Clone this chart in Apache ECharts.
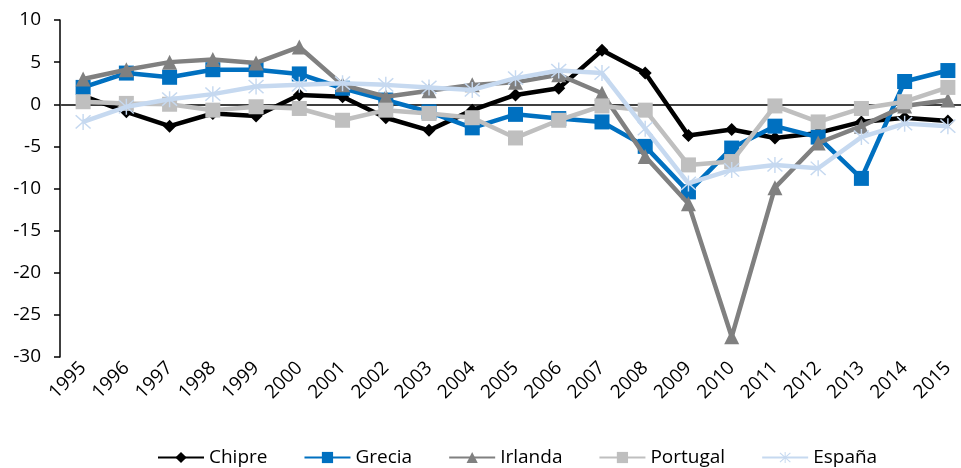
<!DOCTYPE html>
<html>
<head>
<meta charset="utf-8">
<script src="https://cdn.jsdelivr.net/npm/echarts@6/dist/echarts.min.js"></script>
<style>html,body{margin:0;padding:0;background:#fff}#c{width:961px;height:468px}</style>
</head>
<body>
<div id="c"></div>
<script>
const years = ['1995','1996','1997','1998','1999','2000','2001','2002','2003','2004','2005','2006','2007','2008','2009','2010','2011','2012','2013','2014','2015'];
const chipre   = [1.0, -0.9, -2.6, -1.1, -1.4, 1.1, 0.9, -1.6, -3.1, -0.7, 1.1, 1.9, 6.4, 3.7, -3.7, -3.0, -4.0, -3.4, -2.1, -1.6, -2.0];
const grecia   = [2.0, 3.7, 3.2, 4.1, 4.1, 3.6, 1.9, 0.5, -0.9, -2.8, -1.2, -1.7, -2.1, -5.0, -10.4, -5.2, -2.6, -3.9, -8.8, 2.7, 4.0];
const irlanda  = [3.0, 4.1, 5.0, 5.3, 4.9, 6.8, 2.3, 0.9, 1.6, 2.3, 2.6, 3.5, 1.3, -6.2, -11.8, -27.6, -9.9, -4.6, -2.6, -0.2, 0.5];
const portugal = [0.3, 0.1, 0.0, -0.7, -0.3, -0.5, -1.9, -0.7, -1.1, -1.6, -4.0, -1.9, -0.2, -0.7, -7.2, -6.8, -0.2, -2.1, -0.5, 0.3, 2.0];
const espana   = [-2.1, -0.3, 0.6, 1.2, 2.1, 2.3, 2.5, 2.3, 2.0, 1.7, 3.1, 4.0, 3.7, -2.9, -9.4, -7.8, -7.2, -7.6, -3.9, -2.3, -2.6];
const seriesNames = ['Chipre','Grecia','Irlanda','Portugal','España'];
const yTicks = {min: -30, max: 10, interval: 5};

const FONT = 'Open Sans';
const star = 'path://M9.2 0 L10.8 0 L10.8 20 L9.2 20 Z M1.1 2.3 L2.3 1.1 L18.9 17.7 L17.7 18.9 Z M17.7 1.1 L18.9 2.3 L2.3 18.9 L1.1 17.7 Z';

const styles = [
  {color: '#000000', symbol: 'diamond', size: 13},
  {color: '#0070C0', symbol: 'rect', size: 15},
  {color: '#808080', symbol: 'triangle', size: 15},
  {color: '#BFBFBF', symbol: 'rect', size: 15},
  {color: '#C6D9F0', symbol: star, size: 16}
];
const data = [chipre, grecia, irlanda, portugal, espana];

const chart = echarts.init(document.getElementById('c'), null, {renderer: 'canvas'});
chart.setOption({
  animation: false,
  backgroundColor: '#ffffff',
  textStyle: {fontFamily: FONT},
  grid: {left: 61.5, top: 20, width: 908, height: 337, containLabel: false, outerBoundsMode: 'none'},
  legend: {
    top: 443, left: 152,
    itemWidth: 46, itemHeight: 14, itemGap: 36,
    textStyle: {fontFamily: FONT, fontSize: 19, color: '#000'},
    data: seriesNames
  },
  xAxis: [
    {
      type: 'category', data: years, position: 'top', boundaryGap: true,
      axisLine: {onZero: true, lineStyle: {color: '#000', width: 1.5}},
      axisTick: {inside: true, length: 5, lineStyle: {color: '#000', width: 1.5}},
      axisLabel: {show: false}, splitLine: {show: false}
    },
    {
      type: 'category', data: years, position: 'bottom', boundaryGap: true,
      axisLine: {show: false, onZero: false},
      axisTick: {show: false},
      axisLabel: {rotate: 45, margin: 8, fontFamily: FONT, fontSize: 19, color: '#000', interval: 0},
      splitLine: {show: false}
    }
  ],
  yAxis: {
    type: 'value', min: yTicks.min, max: yTicks.max, interval: yTicks.interval,
    offset: 1.5,
    axisLine: {show: true, lineStyle: {color: '#000', width: 1.5}},
    axisTick: {show: true, length: 6, lineStyle: {color: '#000', width: 1.5}},
    axisLabel: {margin: 19, fontFamily: FONT, fontSize: 19, color: '#000'},
    splitLine: {show: false}
  },
  series: seriesNames.map((n, i) => ({
    name: n, type: 'line', xAxisIndex: 0, data: data[i],
    symbol: styles[i].symbol, symbolSize: styles[i].size,
    lineStyle: {color: styles[i].color, width: 4.5},
    itemStyle: {color: styles[i].color},
    z: 2 + i
  }))
});
</script>
</body>
</html>
